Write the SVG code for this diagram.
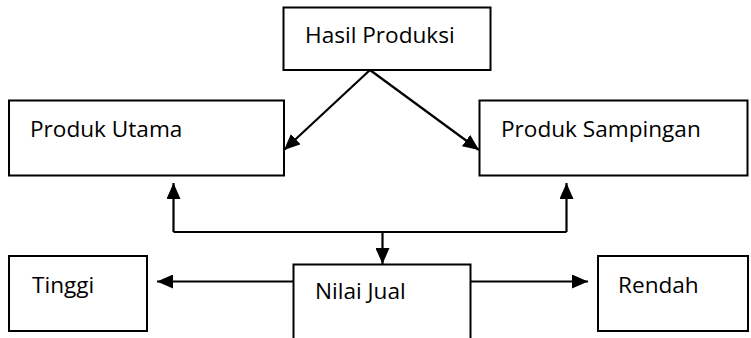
<svg xmlns="http://www.w3.org/2000/svg" width="751" height="338" viewBox="0 0 751 338">
<style>
.box{fill:#fff;stroke:#000;stroke-width:2}
.t{font-family:"Open Sans","Noto Sans",sans-serif;font-size:22.6px;fill:#000}
.c{fill:none;stroke:#000;stroke-width:2.2}
</style>
<defs>
<marker id="ah" viewBox="0 0 16 14" refX="16" refY="7" markerWidth="16" markerHeight="14" markerUnits="userSpaceOnUse" orient="auto">
<path d="M0,0 L16,7 L0,14 Z" fill="#000"/>
</marker>
</defs>
<rect width="751" height="338" fill="#fff"/>
<g id="hasil-produksi"><rect class="box" x="283.5" y="7.5" width="207" height="62.5"/><text class="t" x="305" y="43">Hasil Produksi</text></g>
<g id="produk-utama"><rect class="box" x="9" y="100.5" width="275" height="75"/><text class="t" x="30" y="137">Produk Utama</text></g>
<g id="produk-sampingan"><rect class="box" x="479.5" y="100.5" width="268" height="75"/><text class="t" x="501" y="137">Produk Sampingan</text></g>
<g id="tinggi"><rect class="box" x="9" y="256" width="138" height="75"/><text class="t" x="32" y="293">Tinggi</text></g>
<g id="nilai-jual"><rect class="box" x="293.5" y="264.5" width="177" height="80"/><text class="t" x="315" y="298.5">Nilai Jual</text></g>
<g id="rendah"><rect class="box" x="598" y="256" width="150" height="75"/><text class="t" x="618" y="293">Rendah</text></g>
<g id="connectors">
<path class="c" d="M370,70 L284,150" marker-end="url(#ah)"/>
<path class="c" d="M370,70 L479,150" marker-end="url(#ah)"/>
<path class="c" d="M173.5,232 L566.5,232"/>
<path class="c" d="M173.5,232 L173.5,183" marker-end="url(#ah)"/>
<path class="c" d="M566.5,232 L566.5,183" marker-end="url(#ah)"/>
<path class="c" d="M382.5,232 L382.5,264" marker-end="url(#ah)"/>
<path class="c" d="M293.5,281.5 L157,281.5" marker-end="url(#ah)"/>
<path class="c" d="M470.5,281.5 L588,281.5" marker-end="url(#ah)"/>
</g>
</svg>
